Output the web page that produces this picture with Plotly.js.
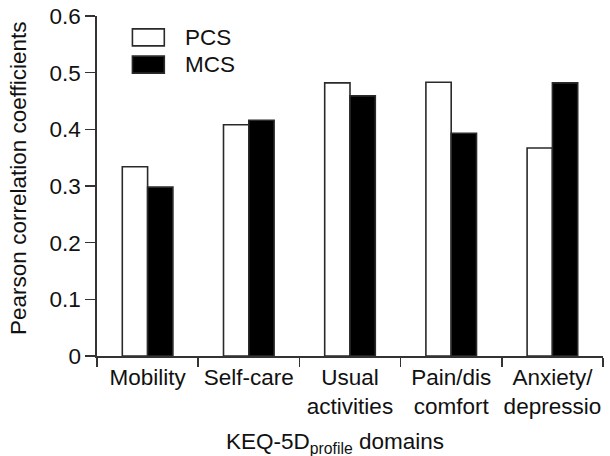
<!DOCTYPE html>
<html>
<head>
<meta charset="utf-8">
<script src="https://cdn.plot.ly/plotly-3.0.1.min.js"></script>
<style>
  html, body { margin: 0; padding: 0; background: #fff; }
  #chart { width: 610px; height: 456px; }
</style>
</head>
<body>
<div id="chart"></div>
<script>
// KEQ-5D profile domains and Pearson correlation with SF-36 summary scores
const categories = ["Mobility", "Self-care", "Usual<br>activities", "Pain/dis<br>comfort", "Anxiety/<br>depressio"];
const seriesNames = ["PCS", "MCS"];
const pcsValues = [0.334, 0.408, 0.482, 0.483, 0.367];
const mcsValues = [0.298, 0.416, 0.459, 0.393, 0.482];
const yTickValues = [0, 0.1, 0.2, 0.3, 0.4, 0.5, 0.6];
const yTickLabels = ["0", "0.1", "0.2", "0.3", "0.4", "0.5", "0.6"];
const yTitle = "Pearson correlation coefficients";
const xTitle = "KEQ-5D<sub>profile</sub> domains";

const FONT = "Liberation Sans, Arial, Helvetica, sans-serif";
const SIZE = 22.5;
const INK = "#111";
const EDGE = "#2a2a2a";
const fills = ["#ffffff", "#000000"];

const traces = [
  {
    type: "bar",
    name: seriesNames[0],
    x: categories,
    y: pcsValues,
    marker: { color: fills[0], line: { color: EDGE, width: 1.6 } },
    hoverinfo: "x+y+name"
  },
  {
    type: "bar",
    name: seriesNames[1],
    x: categories,
    y: mcsValues,
    marker: { color: fills[1], line: { color: EDGE, width: 1.6 } },
    hoverinfo: "x+y+name"
  }
];

// Key: wide swatches with labels in the upper-left of the plot
const keyBoxes = [
  { x0: 0.070, x1: 0.133, y0: 0.912, y1: 0.962 },
  { x0: 0.070, x1: 0.133, y0: 0.832, y1: 0.882 }
];
const shapes = keyBoxes.map((b, i) => ({
  type: "rect", xref: "paper", yref: "paper",
  x0: b.x0, x1: b.x1, y0: b.y0, y1: b.y1,
  fillcolor: fills[i], line: { color: EDGE, width: 1.6 }
}));

const annotations = keyBoxes.map((b, i) => ({
  xref: "paper", yref: "paper",
  x: 0.170, y: (b.y0 + b.y1) / 2,
  xanchor: "left", yanchor: "middle",
  text: seriesNames[i], showarrow: false,
  font: { family: FONT, size: SIZE, color: INK }
}));

// Axis titles
annotations.push({
  xref: "paper", yref: "paper",
  x: 0.470, y: -0.257,
  xanchor: "center", yanchor: "middle",
  text: xTitle, showarrow: false,
  font: { family: FONT, size: SIZE, color: INK }
});
annotations.push({
  xref: "paper", yref: "paper",
  x: -0.154, y: 0.524,
  xanchor: "center", yanchor: "middle",
  textangle: -90,
  text: yTitle, showarrow: false,
  font: { family: FONT, size: SIZE, color: INK }
});

const layout = {
  width: 610,
  height: 456,
  margin: { l: 97, r: 7, t: 16, b: 100 },
  paper_bgcolor: "#fff",
  plot_bgcolor: "#fff",
  font: { family: FONT, size: SIZE, color: INK },
  showlegend: false,
  barmode: "group",
  bargap: 0.5,
  bargroupgap: 0,
  xaxis: {
    type: "category",
    tickson: "boundaries",
    tickangle: 0,
    ticks: "outside",
    ticklen: 9,
    tickwidth: 1.6,
    tickcolor: "#333",
    showline: true,
    linecolor: "#333",
    linewidth: 1.6,
    showgrid: false,
    zeroline: false,
    tickfont: { family: FONT, size: SIZE, color: INK }
  },
  yaxis: {
    range: [0, 0.6],
    tickvals: yTickValues,
    ticktext: yTickLabels,
    ticks: "outside",
    ticklen: 10,
    tickwidth: 1.6,
    tickcolor: "#333",
    showline: true,
    linecolor: "#333",
    linewidth: 1.6,
    showgrid: false,
    zeroline: false,
    tickfont: { family: FONT, size: SIZE, color: INK }
  },
  shapes: shapes,
  annotations: annotations
};

Plotly.newPlot("chart", traces, layout, { staticPlot: true, displayModeBar: false });
</script>
</body>
</html>
